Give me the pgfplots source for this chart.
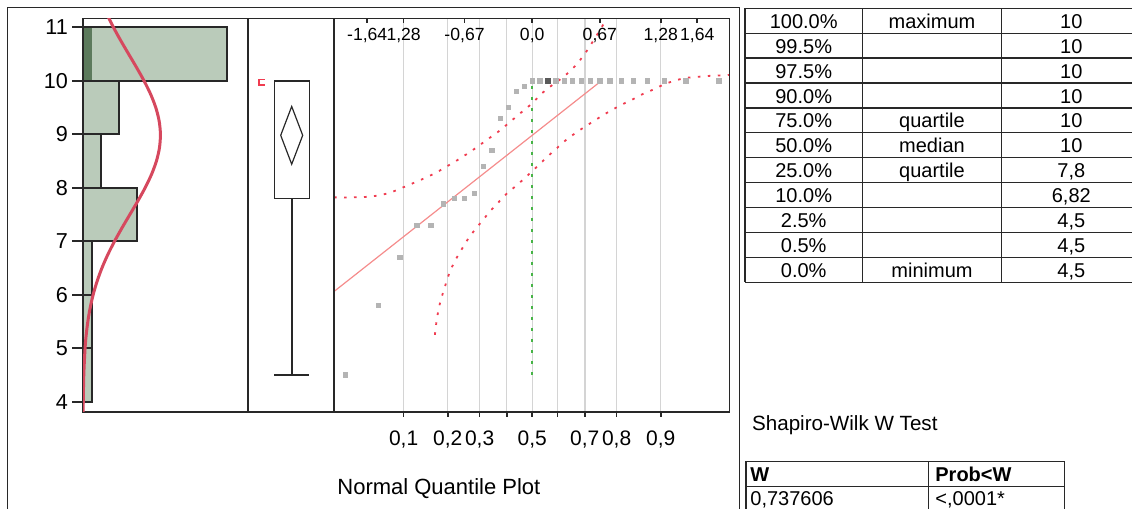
\documentclass[border=0pt]{standalone}
\usepackage{pgfplots}
\pgfplotsset{compat=1.18}
\usepackage{fontspec}
\setmainfont{Liberation Sans}
\definecolor{histfill}{RGB}{186,203,186}
\definecolor{histdark}{RGB}{92,122,92}
\definecolor{curvered}{RGB}{214,72,94}
\definecolor{bandred}{RGB}{240,60,80}
\definecolor{fitred}{RGB}{245,140,140}
\definecolor{medgreen}{RGB}{70,180,70}
\definecolor{gridgray}{RGB}{212,212,212}
\definecolor{ptgray}{RGB}{180,180,180}
\definecolor{ptdark}{RGB}{90,90,90}
\definecolor{frame}{RGB}{40,40,40}
\begin{document}
\begin{tikzpicture}[x=1pt,y=1pt]
\useasboundingbox (0pt,0pt) rectangle (566pt,-254.5pt);
\pgfplotsset{panel/.style={scale only axis, anchor=north west, height=196.7pt,
  ymin=3.813, ymax=11.168, axis line style={frame, line width=0.8pt},
  tick style={frame, line width=0.8pt}}}

% ---------------- histogram ----------------
\begin{axis}[panel, at={(41.5pt,-9.15pt)}, width=82.5pt,
  xmin=0, xmax=18.33, xtick=\empty,
  ytick={4,5,6,7,8,9,10,11}, yticklabels={4,5,6,7,8,9,10,11},
  ytick pos=left, tick align=outside, major tick length=5.5pt,
  yticklabel style={font=\fontsize{10.8}{12}\selectfont, anchor=east, inner sep=0pt, xshift=-1.85pt}]
\addplot[xbar, bar width=1, bar shift=0pt, fill=histfill, draw=frame, line width=0.8pt]
  coordinates {(1,4.5) (1,5.5) (1,6.5) (6,7.5) (2,8.5) (4,9.5) (16,10.5)};
\addplot[xbar, bar width=1, bar shift=0pt, fill=histdark, draw=none]
  coordinates {(1,10.5)};
\addplot[xbar, bar width=1, bar shift=0pt, fill=none, draw=frame, line width=0.8pt]
  coordinates {(16,10.5)};
\addplot[curvered, line width=1.5pt, smooth] coordinates {
 (0.0164,3.75) (0.0295,4.0) (0.087,4.5) (0.229,5.0) (0.356,5.25) (0.538,5.5) (0.790,5.75)
 (1.127,6.0) (1.562,6.25) (2.104,6.5) (2.755,6.75) (3.506,7.0) (4.334,7.25) (5.209,7.5)
 (6.083,7.75) (6.903,8.0) (7.613,8.25) (8.158,8.5) (8.497,8.75) (8.600,9.0) (8.458,9.25)
 (8.084,9.5) (7.509,9.75) (6.778,10.0) (5.945,10.25) (5.068,10.5) (4.198,10.75)
 (3.380,11.0) (2.645,11.25)};
\end{axis}

% ---------------- box plot ----------------
\begin{axis}[panel, at={(124pt,-9.15pt)}, width=43pt, xmin=248, xmax=334, xtick=\empty, ytick=\empty]
\addplot[frame, line width=0.8pt] coordinates {(274.3,7.8) (309.3,7.8) (309.3,10) (274.3,10) (274.3,7.8)};
\addplot[frame, line width=0.8pt] coordinates {(291.8,7.8) (291.8,4.5)};
\addplot[frame, line width=0.8pt] coordinates {(274.3,4.5) (309.3,4.5)};
\addplot[frame, line width=0.6pt] coordinates {(280.7,8.98) (291.7,9.52) (302.7,8.98) (291.7,8.44) (280.7,8.98)};
\addplot[bandred, line width=0.7pt] coordinates {(264.5,10.02) (258.8,10.02) (258.8,9.92) (264.5,9.92)};
\end{axis}

% ---------------- normal quantile plot ----------------
\begin{axis}[panel, at={(167pt,-9.15pt)}, width=197.65pt, xmin=-1.976, xmax=1.965, ytick=\empty,
  xtick={-1.2816,-0.8416,-0.5244,-0.2533,0,0.2533,0.5244,0.8416,1.2816},
  xticklabels={{0,1},{0,2},{0,3},{},{0,5},{},{0,7},{0,8},{0,9}},
  xtick pos=left, tick align=outside, major tick length=2.5pt,
  xmajorgrids, grid style={gridgray, line width=0.7pt},
  xticklabel style={font=\fontsize{10.5}{12}\selectfont, anchor=base, yshift=-14.4pt}]
\addplot[medgreen, line width=1.1pt, dash pattern=on 1.3pt off 4.2pt] coordinates {(0,4.5) (0,10)};
\addplot[bandred, line width=0.9pt, dash pattern=on 1.3pt off 3.7pt, smooth] coordinates {
 (-1.976,7.82) (-1.80,7.82) (-1.65,7.83) (-1.52,7.86) (-1.40,7.92) (-1.27,8.02) (-1.17,8.10)
 (-1.06,8.19) (-0.96,8.28) (-0.86,8.39) (-0.76,8.50) (-0.66,8.62) (-0.55,8.76) (-0.45,8.90)
 (-0.35,9.03) (-0.24,9.20) (-0.14,9.36) (0,9.58) (0.10,9.77) (0.20,9.92) (0.31,10.07)
 (0.43,10.28) (0.53,10.52) (0.64,10.84) (0.73,11.12) (0.77,11.25)};
\addplot[bandred, line width=0.9pt, dash pattern=on 1.3pt off 3.7pt, smooth] coordinates {
 (-0.97,5.25) (-0.955,5.49) (-0.935,5.71) (-0.91,5.91) (-0.875,6.12) (-0.84,6.33) (-0.80,6.52)
 (-0.75,6.70) (-0.69,6.89) (-0.63,7.07) (-0.56,7.24) (-0.49,7.40) (-0.42,7.56) (-0.34,7.72)
 (-0.26,7.88) (-0.165,8.03) (-0.08,8.17) (0,8.31) (0.14,8.56) (0.24,8.73) (0.355,8.92)
 (0.50,9.11) (0.60,9.23) (0.70,9.35) (0.80,9.46) (0.90,9.56) (1.00,9.65) (1.10,9.75)
 (1.20,9.83) (1.30,9.92) (1.40,9.99) (1.52,10.05) (1.63,10.07) (1.75,10.09) (1.87,10.10) (1.965,10.11)};
\addplot[fitred, line width=0.6pt] coordinates {(-1.976,6.06) (0.69,10.0)};
\addplot[only marks, mark=square*, mark size=1.1pt, mark options={draw=ptgray, fill=ptgray}] coordinates {
 (-1.8627,4.5) (-1.5341,5.8) (-1.3180,6.7) (-1.1503,7.3) (-1.0100,7.3) (-0.8871,7.7)
 (-0.7764,7.8) (-0.6745,7.8) (-0.5791,7.9) (-0.4888,8.4) (-0.4023,8.7) (-0.3186,9.3)
 (-0.2372,9.5) (-0.1573,9.8) (-0.0784,9.9) (0,10) (0.0784,10) (0.2372,10)
 (0.3186,10) (0.4023,10) (0.4888,10) (0.5791,10) (0.6745,10) (0.7764,10) (0.8871,10)
 (1.0100,10) (1.1503,10) (1.3180,10) (1.5341,10) (1.8627,10)};
\addplot[only marks, mark=square*, mark size=1.1pt, mark options={draw=ptdark, fill=ptdark}] coordinates {(0.1573,10)};
\end{axis}
% top quantile axis
\begin{axis}[panel, at={(167pt,-9.15pt)}, width=197.65pt, xmin=-1.976, xmax=1.965, ytick=\empty,
  xtick={-1.645,-1.2816,-0.6745,0,0.6745,1.2816,1.645},
  xticklabels={{-1,64},{1,28},{-0,67},{0,0},{0,67},{1,28},{1,64}},
  xtick pos=right, xticklabel pos=right, tick align=inside, major tick length=2.5pt,
  xticklabel style={font=\fontsize{8.8}{10}\selectfont, anchor=base, yshift=-10.85pt}]
\end{axis}

% ---------------- frame and texts ----------------
\draw[frame, line width=0.8pt] (3.65pt,-260pt) -- (3.65pt,-3.65pt) -- (369.65pt,-3.65pt) -- (369.65pt,-260pt);
\node[anchor=base west, inner sep=0pt, font=\fontsize{11}{13}\selectfont] at (168.5pt,-247.2pt) {Normal Quantile Plot};

% quantiles table
\draw[frame, line width=0.6pt] (372.5pt,-4.15pt) -- (372.5pt,-141.1pt);
\draw[frame, line width=0.6pt] (431.15pt,-4.15pt) -- (431.15pt,-141.1pt);
\draw[frame, line width=0.6pt] (500.85pt,-4.15pt) -- (500.85pt,-141.1pt);
\foreach \k in {0,...,11} {\draw[frame, line width=0.65pt] (372.5pt,-4.15pt-12.45pt*\k) -- (570.5pt,-4.15pt-12.45pt*\k);}
\begin{scope}[every node/.style={anchor=base, inner sep=0pt, font=\fontsize{10}{12}\selectfont}]
\foreach \k/\a/\b/\c in {0/100.0\%/maximum/10, 1/99.5\%//10, 2/97.5\%//10, 3/90.0\%//10,
  4/75.0\%/quartile/10, 5/50.0\%/median/10, 6/25.0\%/quartile/{7,8}, 7/10.0\%//{6,82},
  8/2.5\%//{4,5}, 9/0.5\%//{4,5}, 10/0.0\%/minimum/{4,5}} {
  \node at (401.85pt,-14.15pt-12.45pt*\k) {\a};
  \node at (466pt,-14.15pt-12.45pt*\k) {\b};
  \node at (535.65pt,-14.15pt-12.45pt*\k) {\c};
}
\end{scope}

% Shapiro-Wilk
\node[anchor=base west, inner sep=0pt, font=\fontsize{10.3}{12}\selectfont] at (375.85pt,-215pt) {Shapiro-Wilk W Test};
\draw[frame, line width=0.6pt] (373pt,-258pt) -- (373pt,-230.85pt) -- (532.15pt,-230.85pt) -- (532.15pt,-258pt);
\draw[frame, line width=0.6pt] (464.15pt,-230.85pt) -- (464.15pt,-258pt);
\draw[frame, line width=0.6pt] (373pt,-243.35pt) -- (532.15pt,-243.35pt);
\node[anchor=base west, inner sep=0pt, font=\fontsize{10}{12}\selectfont\bfseries] at (375pt,-240.85pt) {W};
\node[anchor=base west, inner sep=0pt, font=\fontsize{10}{12}\selectfont\bfseries] at (467.5pt,-240.85pt) {Prob<W};
\node[anchor=base west, inner sep=0pt, font=\fontsize{10}{12}\selectfont] at (375pt,-252.5pt) {0,737606};
\node[anchor=base west, inner sep=0pt, font=\fontsize{10}{12}\selectfont] at (467.5pt,-252.5pt) {<,0001*};
\end{tikzpicture}
\end{document}
